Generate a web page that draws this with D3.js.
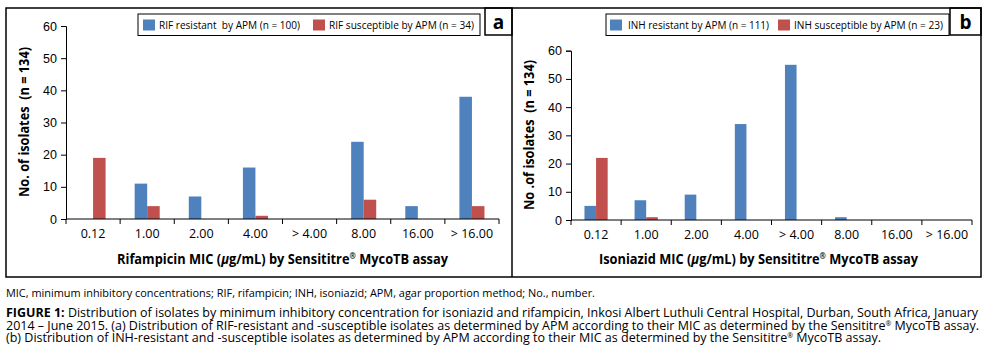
<!DOCTYPE html>
<html>
<head>
<meta charset="utf-8">
<script src="https://cdn.jsdelivr.net/npm/d3@7"></script>
<style>
  body { margin: 0; background: #fff; }
  svg { display: block; font-family: "Open Sans", "Liberation Sans", sans-serif; }
</style>
</head>
<body>
<svg id="fig" width="993" height="360"></svg>
<script>
// --- données ---
const categories = ["0.12", "1.00", "2.00", "4.00", "> 4.00", "8.00", "16.00", "> 16.00"];
const yTicks = [0, 10, 20, 30, 40, 50, 60];

const rifResistant = [0, 11, 7, 16, 0, 24, 4, 38];
const rifSusceptible = [19, 4, 0, 1, 0, 6, 0, 4];
const inhResistant = [5, 7, 9, 34, 55, 1, 0, 0];
const inhSusceptible = [22, 1, 0, 0, 0, 0, 0, 0];

const seriesNames = ["resistant", "susceptible"];
const colors = { resistant: "#4F81BD", susceptible: "#C0504D" };

const svg = d3.select("#fig");

// cadre général + séparation
svg.append("rect").attr("x", 6).attr("y", 8).attr("width", 975).attr("height", 269)
  .attr("fill", "none").attr("stroke", "#000").attr("stroke-width", 1.5);
svg.append("line").attr("x1", 512).attr("x2", 512).attr("y1", 8).attr("y2", 277)
  .attr("stroke", "#000").attr("stroke-width", 1.5);

function drawPanel(p) {
  const g = svg.append("g");

  const x = d3.scaleBand().domain(categories).range([p.left, p.right]).padding(0);
  const sub = d3.scaleBand().domain(seriesNames).range([0, x.bandwidth()])
    .paddingInner(0).paddingOuter(1.16);
  const y = d3.scaleLinear().domain([0, 60]).range([p.bottom, p.top]);

  const rows = categories.map((c, i) => ({
    cat: c, resistant: p.resistant[i], susceptible: p.susceptible[i]
  }));

  // barres
  g.selectAll(".grp")
    .data(rows)
    .join("g")
    .attr("transform", d => `translate(${x(d.cat)},0)`)
    .selectAll("rect")
    .data(d => seriesNames.map(k => ({ key: k, value: d[k] })))
    .join("rect")
    .attr("x", d => sub(d.key))
    .attr("y", d => y(d.value))
    .attr("width", sub.bandwidth())
    .attr("height", d => p.bottom - y(d.value))
    .attr("fill", d => colors[d.key]);

  // axe Y
  const yAxis = g.append("g")
    .attr("transform", `translate(${p.left},0)`)
    .call(d3.axisLeft(y).tickValues(yTicks).tickSize(5).tickPadding(4));
  yAxis.select(".domain").attr("stroke", "#000");
  yAxis.selectAll("text").style("font-size", "12.5px").attr("fill", "#000");

  // axe X : graduations entre les catégories
  const xAxis = g.append("g").attr("transform", `translate(0,${p.bottom})`);
  xAxis.append("line").attr("x1", p.left).attr("x2", p.right)
    .attr("stroke", "#000");
  const edges = categories.map(c => x(c)).concat([p.right]);
  xAxis.selectAll(".tk").data(edges).join("line")
    .attr("x1", d => d).attr("x2", d => d).attr("y1", 0).attr("y2", 5)
    .attr("stroke", "#000");
  xAxis.selectAll(".lbl").data(categories).join("text")
    .attr("x", d => x(d) + x.bandwidth() / 2)
    .attr("y", 15)
    .attr("dy", "0.35em")
    .attr("text-anchor", "middle")
    .style("font-size", "12.5px")
    .text(d => d);

  // titre axe X
  const xt = g.append("text")
    .attr("x", p.xTitleX).attr("y", 259).attr("dy", "0.35em")
    .attr("text-anchor", "middle")
    .attr("textLength", p.xTitleLen).attr("lengthAdjust", "spacingAndGlyphs")
    .style("font-size", "13.5px").style("font-weight", "bold");
  xt.append("tspan").text(p.drug + " MIC (");
  xt.append("tspan").style("font-style", "italic").text("μ");
  xt.append("tspan").text("g/mL) by Sensititre");
  xt.append("tspan").attr("dy", -5).style("font-size", "8px").text("®");
  xt.append("tspan").attr("dy", 5).text(" MycoTB assay");

  // titre axe Y
  g.append("text")
    .attr("transform", `translate(${p.yTitleX},${p.yTitleY}) rotate(-90)`)
    .attr("text-anchor", "middle").attr("dy", "0.35em")
    .attr("textLength", 150).attr("lengthAdjust", "spacingAndGlyphs")
    .style("font-size", "13.5px").style("font-weight", "bold")
    .style("white-space", "pre")
    .text(p.yTitle);

  // légende
  const lg = p.legend;
  g.append("rect").attr("x", lg.x).attr("y", 14).attr("width", lg.w).attr("height", 21.5)
    .attr("fill", "#fff").attr("stroke", "#000").attr("stroke-width", 1);
  lg.items.forEach((it, i) => {
    g.append("rect").attr("x", it.sx).attr("y", 19.5).attr("width", 12).attr("height", 11)
      .attr("fill", colors[seriesNames[i]]);
    g.append("text").attr("x", it.tx).attr("y", 25).attr("dy", "0.35em")
      .attr("textLength", it.len).attr("lengthAdjust", "spacingAndGlyphs")
      .style("font-size", "11px").style("white-space", "pre")
      .text(it.label);
  });

  // lettre du panneau
  g.append("rect").attr("x", p.tag.x).attr("y", 8).attr("width", p.tag.w).attr("height", 27)
    .attr("fill", "none").attr("stroke", "#000").attr("stroke-width", 1.5);
  g.append("text").attr("x", p.tag.x + p.tag.w / 2).attr("y", 22).attr("dy", "0.35em")
    .attr("text-anchor", "middle")
    .style("font-size", "19px").style("font-weight", "bold")
    .text(p.tag.label);
}

drawPanel({
  left: 66, right: 499, top: 26, bottom: 219,
  resistant: rifResistant, susceptible: rifSusceptible,
  drug: "Rifampicin", xTitleX: 282.5, xTitleLen: 331,
  yTitle: "No. of isolates  (n = 134)", yTitleX: 24, yTitleY: 122,
  legend: { x: 138, w: 342, items: [
    { sx: 143, tx: 159, len: 141, label: "RIF resistant  by APM (n = 100)" },
    { sx: 313, tx: 329, len: 145, label: "RIF susceptible by APM (n = 34)" }
  ] },
  tag: { x: 485, w: 27, label: "a" }
});

drawPanel({
  left: 571, right: 972, top: 50.7, bottom: 220,
  resistant: inhResistant, susceptible: inhSusceptible,
  drug: "Isoniazid", xTitleX: 758.5, xTitleLen: 319,
  yTitle: "No .of isolates  (n = 134)", yTitleX: 529, yTitleY: 135,
  legend: { x: 606, w: 343, items: [
    { sx: 610, tx: 628, len: 141, label: "INH resistant by APM (n = 111)" },
    { sx: 778, tx: 794, len: 149, label: "INH susceptible by APM (n = 23)" }
  ] },
  tag: { x: 950, w: 31, label: "b" }
});

// --- légende de la figure ---
const notes = "MIC, minimum inhibitory concentrations; RIF, rifampicin; INH, isoniazid; APM, agar proportion method; No., number.";
svg.append("text").attr("x", 6).attr("y", 293).attr("dy", "0.35em")
  .attr("textLength", 589).attr("lengthAdjust", "spacingAndGlyphs")
  .style("font-size", "10.5px").text(notes);

const captionLines = [
  { bold: "FIGURE 1:", rest: " Distribution of isolates by minimum inhibitory concentration for isoniazid and rifampicin, Inkosi Albert Luthuli Central Hospital, Durban, South Africa, January", len: 972 },
  { bold: "", rest: "2014 – June 2015. (a) Distribution of RIF-resistant and -susceptible isolates as determined by APM according to their MIC as determined by the Sensititre", sup: true, tail: " MycoTB assay.", len: 973 },
  { bold: "", rest: "(b) Distribution of INH-resistant and -susceptible isolates as determined by APM according to their MIC as determined by the Sensititre", sup: true, tail: " MycoTB assay.", len: 875 }
];
const capY = [313, 325.5, 338];
captionLines.forEach((l, i) => {
  const t = svg.append("text").attr("x", 6).attr("y", capY[i]).attr("dy", "0.35em")
    .attr("textLength", l.len).attr("lengthAdjust", "spacingAndGlyphs")
    .style("font-size", "12.5px").style("white-space", "pre");
  if (l.bold) t.append("tspan").style("font-weight", "bold").text(l.bold);
  t.append("tspan").text(l.rest);
  if (l.sup) {
    t.append("tspan").attr("dy", -4).style("font-size", "7px").text("®");
    t.append("tspan").attr("dy", 4).text(l.tail);
  }
});
</script>
</body>
</html>
